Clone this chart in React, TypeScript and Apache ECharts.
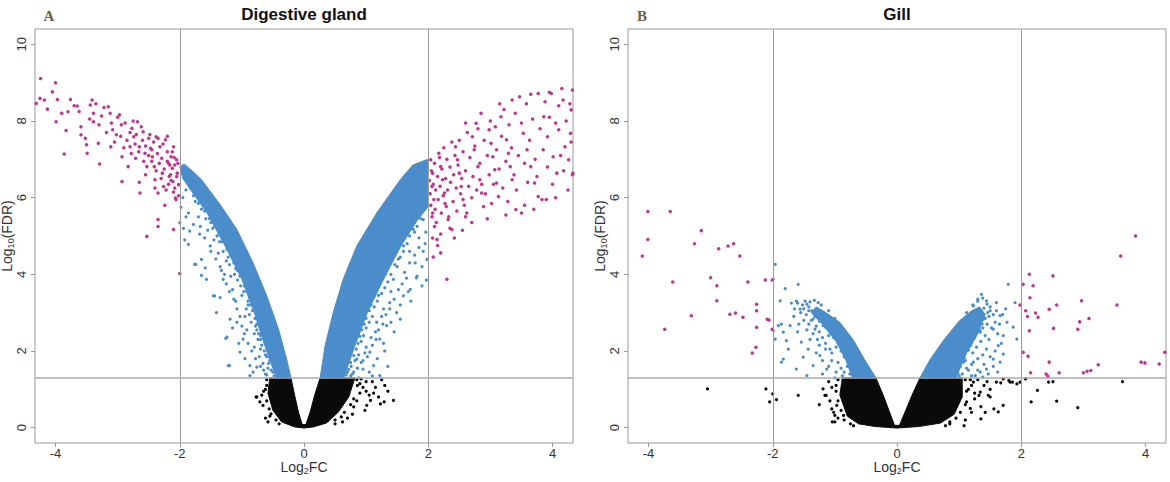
import React, { useEffect, useRef } from 'react';
import * as echarts from 'echarts';

type P = [number, number];

const X_TICKS = [-4, -2, 0, 2, 4];
const Y_TICKS = [0, 2, 4, 6, 8, 10];
const FC_CUTS = [-2, 2];
const FDR_CUT = 1.301;
const PANEL_TITLES = ['Digestive gland', 'Gill'];
const PANEL_LETTERS = ['A', 'B'];

// ---------- Panel A : Digestive gland ----------
const A_MAGENTA: P[] = [
  [-4.31, 8.46], [-4.24, 9.11], [-4.25, 8.59], [-4.0, 9.0], [-4.05, 8.76], [-3.97, 8.56], [-4.13, 8.31], [-3.99, 7.98],
  [-3.86, 7.14], [-3.83, 7.75], [-3.76, 8.56], [-3.8, 8.24], [-3.65, 8.39], [-3.59, 7.85], [-3.59, 7.64], [-3.5, 7.38],
  [-3.49, 7.16], [-3.41, 8.55], [-3.44, 8.42], [-3.39, 8.2], [-3.39, 7.98], [-3.31, 7.42], [-3.29, 6.88], [-3.26, 8.13],
  [-3.15, 8.37], [-3.08, 7.77], [-3.11, 7.33], [-3.02, 7.64], [-2.97, 8.16], [-2.94, 7.9], [-2.93, 7.07], [-2.93, 6.42],
  [-2.83, 6.81], [-2.8, 7.33], [-2.77, 7.81], [-2.74, 7.59], [-2.71, 7.03], [-2.68, 7.98], [-2.65, 7.33], [-2.64, 6.12],
  [-2.59, 7.72], [-2.56, 7.16], [-2.53, 6.81], [-2.5, 7.55], [-2.47, 7.29], [-2.44, 7.07], [-2.41, 6.81], [-2.4, 6.47],
  [-2.38, 7.59], [-2.35, 6.12], [-2.35, 5.43], [-2.35, 5.25], [-2.32, 7.33], [-2.29, 7.03], [-2.28, 6.64], [-2.26, 6.29],
  [-2.23, 7.51], [-2.2, 7.2], [-2.18, 6.9], [-2.17, 6.55], [-2.14, 7.07], [-2.12, 6.77], [-2.11, 6.42], [-2.1, 7.33],
  [-2.08, 6.25], [-2.07, 5.99], [-2.05, 6.99], [-2.04, 6.64], [-2.02, 6.34], [-2.1, 5.17], [-2.53, 4.99], [-2.0, 4.02],
  [-2.05, 6.55], [-2.08, 6.85], [-2.1, 6.15], [-2.12, 7.2], [-2.15, 6.6], [-2.18, 6.35], [-2.2, 6.95], [-2.22, 6.2],
  [-2.25, 6.75], [-2.27, 7.4], [-2.3, 6.5], [-2.33, 6.9], [-2.36, 7.15], [-2.38, 6.7], [-2.42, 7.45], [-2.45, 6.95],
  [-2.48, 7.65], [-2.5, 7.1], [-2.55, 7.35], [-2.58, 6.95], [-2.6, 7.5], [-2.62, 7.85], [-2.66, 7.2], [-2.7, 7.65],
  [-2.72, 7.4], [-2.75, 8.0], [-2.78, 7.15], [-2.8, 7.7], [-2.85, 7.5], [-2.88, 7.95], [-2.9, 7.3], [-2.95, 7.6],
  [-3.0, 8.1], [-3.05, 7.45], [-3.1, 7.95], [-3.12, 8.2], [-3.18, 7.7], [-3.22, 8.35], [-3.3, 7.9], [-3.35, 8.45],
  [-3.45, 8.05], [-3.52, 7.55], [-3.62, 8.25], [-3.7, 8.4], [-3.9, 8.2], [-4.18, 8.55], [-2.02, 6.05], [-2.06, 5.95],
  [-2.14, 6.45], [-2.24, 5.8], [-2.4, 6.25], [-2.55, 6.6], [-2.65, 6.4], [-2.45, 7.25], [-2.35, 7.55], [-2.2, 7.6],
  [-2.03, 6.9], [-2.09, 7.05], [-2.16, 6.85],
  [2.04, 6.99], [2.07, 6.64], [2.06, 6.29], [2.09, 5.95], [2.07, 5.6], [2.1, 5.25], [2.14, 4.91], [2.17, 7.16],
  [2.2, 6.81], [2.23, 6.47], [2.26, 6.12], [2.29, 5.77], [2.32, 5.43], [2.38, 5.17], [2.44, 7.33], [2.47, 6.99],
  [2.5, 6.64], [2.53, 6.29], [2.56, 5.95], [2.62, 5.6], [2.71, 7.59], [2.74, 7.25], [2.77, 7.94], [2.8, 6.81],
  [2.83, 6.47], [2.86, 6.12], [2.89, 5.77], [2.98, 7.77], [3.01, 7.42], [3.04, 7.07], [3.07, 6.73], [3.1, 6.38],
  [3.13, 6.03], [3.17, 8.11], [3.26, 7.51], [3.29, 7.16], [3.32, 6.81], [3.35, 6.47], [3.41, 5.69], [3.5, 5.6],
  [3.47, 8.63], [3.53, 7.68], [3.59, 7.25], [3.65, 6.81], [3.71, 6.38], [3.77, 6.03], [3.83, 5.95], [3.77, 8.72],
  [3.86, 8.11], [3.92, 7.59], [3.98, 8.72], [4.01, 7.07], [4.07, 6.64], [4.1, 7.77], [4.17, 8.55], [4.2, 7.33],
  [4.26, 6.99], [4.32, 8.81], [4.3, 8.29], [4.33, 6.64], [4.29, 7.68], [2.2, 4.56], [2.3, 3.87], [2.07, 4.95],
  [2.02, 6.45], [2.03, 6.1], [2.04, 5.8], [2.05, 6.7], [2.06, 5.5], [2.08, 6.35], [2.1, 6.9], [2.11, 5.7],
  [2.12, 6.2], [2.13, 5.35], [2.15, 6.55], [2.16, 5.95], [2.18, 7.05], [2.19, 6.3], [2.21, 5.6], [2.22, 6.75],
  [2.24, 6.05], [2.25, 7.3], [2.27, 5.85], [2.28, 6.5], [2.3, 7.0], [2.31, 6.2], [2.33, 5.5], [2.35, 6.8],
  [2.36, 6.4], [2.38, 7.45], [2.4, 5.9], [2.41, 6.6], [2.43, 7.1], [2.45, 6.25], [2.46, 5.65], [2.48, 6.85],
  [2.5, 7.5], [2.52, 6.1], [2.54, 6.5], [2.56, 7.2], [2.58, 5.8], [2.6, 6.7], [2.63, 7.7], [2.65, 6.3],
  [2.67, 7.05], [2.7, 6.0], [2.72, 6.55], [2.75, 7.35], [2.78, 6.2], [2.8, 7.8], [2.83, 6.9], [2.86, 6.35],
  [2.9, 7.5], [2.92, 6.1], [2.95, 7.1], [2.98, 6.6], [3.0, 8.0], [3.02, 5.85], [3.05, 6.35], [3.08, 7.85],
  [3.1, 7.25], [3.14, 6.75], [3.18, 7.6], [3.2, 6.25], [3.22, 8.3], [3.25, 6.95], [3.28, 5.9], [3.3, 7.9],
  [3.34, 7.3], [3.38, 6.6], [3.4, 8.2], [3.42, 6.2], [3.45, 7.1], [3.5, 7.95], [3.55, 6.9], [3.58, 8.45],
  [3.6, 6.4], [3.63, 7.5], [3.68, 8.05], [3.72, 7.0], [3.75, 6.55], [3.8, 7.8], [3.85, 7.25], [3.88, 8.5],
  [3.92, 6.8], [3.95, 8.1], [4.0, 6.35], [4.05, 7.95], [4.1, 8.4], [4.13, 7.1], [4.18, 6.7], [4.22, 8.0],
  [4.25, 6.2], [4.3, 7.45], [3.7, 5.7], [3.9, 5.95], [3.55, 5.8], [3.25, 5.55], [2.95, 5.45], [2.7, 5.35],
  [2.55, 5.15], [2.42, 4.95], [2.2, 5.05], [2.15, 4.75], [2.08, 4.45], [2.35, 5.2], [2.6, 5.5], [4.05, 6.0],
  [4.32, 6.6], [4.28, 8.45], [3.35, 8.55], [3.15, 8.45], [2.85, 8.2], [2.6, 7.95], [3.65, 8.7], [3.95, 8.75],
  [4.15, 8.85],
];

const A_BLUE: P[] = [
  [-1.86, 5.6], [-2.0, 5.34], [-1.84, 5.13], [-1.76, 4.26], [-1.65, 4.39], [-1.59, 4.17], [-1.46, 3.44], [-1.35, 3.39],
  [-1.24, 2.36], [-1.2, 1.62], [-1.03, 1.97], [-1.08, 2.75], [-0.87, 1.62], [-0.87, 1.36], [-0.76, 1.58], [-1.3, 3.87],
  [-1.51, 4.74], [-1.67, 5.25], [-1.57, 3.87], [-1.41, 3.0], [-1.19, 2.83], [-0.98, 2.31], [-1.86, 4.78], [-1.74, 4.26],
  [-1.65, 3.97], [-1.44, 3.44], [-1.26, 2.33], [-1.22, 1.62], [-1.45, 4.9], [-1.38, 4.55], [-1.25, 4.35], [-1.15, 3.6],
  [-1.1, 3.3], [-0.95, 2.9], [-0.92, 2.55], [-0.8, 2.1], [-0.72, 1.85], [-0.65, 1.5], [-0.6, 1.38], [-1.7, 5.5],
  [-1.75, 5.9], [-1.9, 6.2], [-1.55, 5.15], [-1.35, 4.2], [-1.18, 3.95], [-1.0, 3.45], [-0.9, 3.2], [-0.78, 2.65],
  [-0.7, 2.4], [-1.28, 4.0], [-1.6, 4.95], [-1.95, 6.0], [-1.98, 5.75], [-1.92, 4.9], [-1.15, 2.6], [-1.05, 2.2],
  [-0.95, 1.8], [-0.82, 1.45],
  [-0.5, 1.45], [-0.58, 1.55], [-0.55, 1.75], [-0.62, 1.9], [-0.66, 1.68], [-0.7, 2.05], [-0.74, 2.3], [-0.8, 2.45],
  [-0.76, 2.55], [-0.85, 2.75], [-0.88, 2.95], [-0.93, 3.1], [-0.9, 3.3], [-0.97, 3.55], [-1.02, 3.7], [-1.07, 3.85],
  [-1.12, 4.0], [-1.1, 4.15], [-1.2, 4.25], [-1.22, 4.45], [-1.3, 4.6], [-1.36, 4.85], [-1.4, 5.0], [-1.47, 5.2],
  [-1.5, 5.35], [-1.58, 5.45], [-1.65, 5.7], [-1.7, 5.85], [-1.78, 6.05], [-1.85, 6.35], [-0.62, 1.4], [-0.7, 1.6],
  [-0.78, 1.8], [-0.84, 2.0], [-0.9, 2.2], [-0.96, 2.45], [-1.0, 2.65], [-1.03, 2.9], [-1.08, 3.1], [-1.13, 3.35],
  [-1.2, 3.55], [-1.25, 3.75], [-1.33, 4.1], [-1.42, 4.4], [-1.5, 4.6], [-1.68, 5.05], [-1.78, 5.3], [-1.9, 5.5],
  [-1.94, 5.2],
  [-0.48, 1.35], [-0.53, 1.5], [-0.57, 1.68], [-0.6, 1.85], [-0.64, 2.0], [-0.68, 2.15], [-0.7, 2.3], [-0.73, 2.45],
  [-0.76, 2.7], [-0.79, 2.85], [-0.83, 3.05], [-0.86, 3.2], [-0.88, 3.4], [-0.92, 3.55], [-0.96, 3.7], [-1.03, 3.95],
  [-1.07, 4.1], [-1.13, 4.3], [-1.18, 4.5], [-1.24, 4.65], [-1.32, 4.85], [-1.37, 5.05], [-1.44, 5.25], [-1.52, 5.45],
  [-1.6, 5.65], [-1.68, 5.9], [-1.74, 6.1], [-1.83, 6.25], [-1.88, 6.45],
  [1.98, 4.39], [1.79, 4.3], [1.81, 3.91], [1.71, 3.61], [1.6, 3.44], [1.55, 2.83], [1.38, 3.26], [1.33, 2.66],
  [1.22, 2.31], [1.22, 1.36], [1.06, 1.97], [1.12, 1.62], [0.95, 1.53], [0.85, 1.79], [1.44, 3.87], [1.6, 4.74],
  [1.76, 5.17], [1.92, 5.43], [1.49, 3.0], [1.17, 2.75], [1.7, 4.6], [1.85, 4.95], [1.5, 4.2], [1.4, 3.55],
  [1.28, 3.1], [1.15, 2.5], [1.0, 2.1], [0.92, 1.7], [0.8, 1.45], [0.75, 1.35], [1.9, 4.2], [1.95, 4.8],
  [1.65, 3.9], [1.25, 2.9], [1.08, 2.35], [0.98, 1.95], [1.35, 1.6], [1.3, 2.0], [1.45, 2.5], [1.72, 3.3],
  [1.9, 3.7], [1.55, 4.45], [1.25, 3.5], [1.1, 1.35], [0.88, 1.3],
  [0.7, 1.45], [0.76, 1.6], [0.82, 1.75], [0.88, 1.9], [0.92, 2.25], [0.96, 2.4], [1.0, 2.6], [1.05, 2.75],
  [1.1, 2.9], [1.13, 3.15], [1.18, 3.3], [1.2, 3.45], [1.3, 3.65], [1.35, 3.8], [1.4, 4.0], [1.46, 4.25],
  [1.52, 4.4], [1.6, 4.6], [1.66, 4.8], [1.7, 5.0], [1.78, 5.1], [1.82, 5.25], [1.88, 5.45], [0.78, 1.4],
  [0.86, 1.55], [0.95, 1.75], [1.02, 1.85], [1.1, 2.15], [1.16, 2.3], [1.2, 2.55], [1.27, 2.7], [1.32, 2.95],
  [1.38, 3.1], [1.45, 3.35], [1.52, 3.6], [1.58, 3.75], [1.62, 4.05], [1.7, 4.3], [1.78, 4.5], [1.85, 4.7],
  [1.92, 4.6], [1.96, 5.1], [1.05, 1.45], [1.18, 1.8], [1.28, 2.2], [1.4, 2.75], [1.55, 3.2], [1.68, 3.55],
  [1.82, 3.95], [1.97, 3.85],
  [0.68, 1.38], [0.72, 1.52], [0.75, 1.7], [0.8, 1.88], [0.84, 2.05], [0.87, 2.2], [0.9, 2.38], [0.93, 2.55],
  [0.97, 2.7], [1.0, 2.85], [1.05, 3.05], [1.08, 3.2], [1.12, 3.4], [1.16, 3.55], [1.2, 3.7], [1.25, 3.85],
  [1.31, 4.0], [1.36, 4.2], [1.42, 4.38], [1.48, 4.55], [1.55, 4.8], [1.62, 4.95], [1.68, 5.15], [1.75, 5.3],
  [1.8, 5.5], [1.86, 5.6], [1.94, 5.7],
];

const A_BLACK: P[] = [
  [-0.77, 0.8], [-0.71, 0.67], [-0.56, 0.49], [-0.53, 0.36], [-0.76, 0.8], [-0.66, 0.58], [-0.62, 0.25], [-0.6, 1.1],
  [-0.65, 0.95], [-0.45, 0.2], [-0.58, 0.15], [-0.6, 1.25], [-0.62, 1.0], [-0.6, 0.7], [-0.55, 0.3], [-0.4, 0.1],
  [-0.68, 0.85],
  [0.98, 0.45], [1.01, 0.58], [1.07, 0.71], [1.23, 0.62], [1.29, 0.67], [1.44, 0.71], [0.8, 0.54], [0.68, 0.84],
  [0.86, 1.1], [0.92, 1.27], [0.38, 0.19], [0.9, 0.9], [0.95, 1.05], [1.0, 1.2], [0.78, 0.35], [0.7, 0.25],
  [0.62, 0.15], [1.12, 0.9], [1.15, 1.05], [0.85, 0.7], [1.25, 1.25], [0.5, 0.1], [0.85, 1.25], [0.9, 1.15],
  [0.8, 0.75], [0.75, 0.6], [0.65, 0.4], [0.5, 0.2], [1.0, 0.95], [1.05, 0.85], [1.1, 1.2], [1.2, 0.8],
  [1.35, 0.95], [1.3, 1.1], [0.6, 0.28],
];

const A_BLUE_CORE: P[][] = [
  [[-1.93, 6.88], [-1.8, 6.7], [-1.65, 6.47], [-1.35, 5.82], [-1.08, 5.17], [-0.82, 4.3], [-0.6, 3.44], [-0.41, 2.57],
   [-0.28, 1.79], [-0.21, 1.3], [-0.44, 1.3], [-0.52, 1.62], [-0.65, 2.23], [-0.8, 3.0], [-1.0, 3.87], [-1.27, 4.74],
   [-1.56, 5.6], [-1.78, 6.1], [-1.95, 6.5], [-2.0, 6.8]],
  [[0.26, 1.3], [0.34, 2.14], [0.47, 3.0], [0.63, 3.87], [0.85, 4.74], [1.17, 5.6], [1.55, 6.47], [1.75, 6.85],
   [1.99, 7.0], [1.99, 5.75], [1.82, 5.4], [1.56, 4.74], [1.28, 3.87], [1.02, 3.0], [0.82, 2.14], [0.64, 1.3]],
];

const A_BLACK_CORE: P[][] = [
  [[-0.55, 1.3], [-0.58, 0.9], [-0.5, 0.45], [-0.36, 0.15], [-0.15, 0.02], [0, -0.01], [0.15, 0.02], [0.36, 0.12],
   [0.55, 0.4], [0.72, 0.8], [0.82, 1.3], [0.26, 1.3], [0.17, 0.84], [0.1, 0.41], [0.03, 0.08], [-0.03, 0.08],
   [-0.09, 0.41], [-0.15, 0.84], [-0.21, 1.3]],
];

// ---------- Panel B : Gill ----------
const B_MAGENTA: P[] = [
  [-4.01, 5.64], [-3.65, 5.64], [-4.01, 4.91], [-3.15, 5.14], [-3.26, 4.8], [-2.87, 4.67], [-2.72, 4.74], [-2.63, 4.8],
  [-4.1, 4.48], [-2.53, 4.48], [-3.61, 3.8], [-3.0, 3.91], [-2.9, 3.7], [-2.4, 3.8], [-2.12, 3.85], [-2.01, 3.85],
  [-3.74, 2.57], [-3.31, 2.92], [-2.9, 3.31], [-2.69, 2.96], [-2.6, 2.99], [-2.48, 2.88], [-2.26, 3.22], [-2.26, 3.05],
  [-2.26, 2.62], [-2.09, 2.83], [-2.06, 2.81], [-2.01, 2.57], [-2.27, 2.1], [-2.33, 1.95],
  [2.13, 4.0], [2.51, 3.96], [3.6, 4.48], [3.84, 5.0], [2.03, 3.74], [2.19, 3.7], [2.14, 3.39], [1.98, 3.2],
  [2.07, 3.05], [2.1, 2.9], [2.23, 2.99], [2.27, 2.88], [2.45, 3.09], [2.57, 3.2], [2.13, 2.53], [2.52, 2.59],
  [2.97, 3.31], [3.54, 3.2], [2.91, 2.57], [2.94, 2.76], [3.09, 2.85], [2.03, 1.97], [2.11, 1.86], [2.45, 1.71],
  [2.15, 1.43], [2.4, 1.4], [2.43, 1.34], [2.61, 1.43], [3.0, 1.43], [3.06, 1.47], [3.12, 1.49], [3.24, 1.64],
  [3.93, 1.71], [3.99, 1.69], [4.22, 1.66], [4.31, 1.97],
];

const B_BLUE: P[] = [
  [-1.96, 4.26], [-1.99, 3.87], [-1.8, 3.63], [-1.59, 3.74], [-1.88, 3.31], [-1.86, 2.7], [-1.72, 2.66], [-1.91, 2.66],
  [-1.83, 2.49], [-1.99, 2.53], [-1.96, 2.31], [-1.78, 2.27], [-1.75, 2.05], [-1.83, 1.79], [-1.86, 1.71], [-1.51, 1.84],
  [-1.62, 1.53], [-1.45, 1.36], [-1.35, 1.62], [-1.54, 2.23], [-1.43, 2.05], [-1.32, 2.57], [-1.24, 1.88], [-1.13, 1.53],
  [-1.08, 2.05], [-1.45, 3.22], [-1.37, 3.05], [-1.27, 3.26], [-1.56, 3.09], [-1.35, 2.83], [-1.21, 2.96], [-1.19, 2.66],
  [-1.08, 2.57], [-1.62, 3.3], [-1.5, 3.1], [-1.42, 2.7], [-1.28, 2.3], [-1.15, 2.2], [-1.05, 1.75], [-0.98, 1.45],
  [-1.2, 1.4], [-1.3, 1.95], [-1.6, 2.5], [-1.66, 2.9],
  [-1.6, 3.25], [-1.52, 3.2], [-1.48, 3.3], [-1.42, 3.15], [-1.4, 3.28], [-1.33, 3.32], [-1.55, 3.0], [-1.46, 2.95],
  [-1.5, 2.8], [-1.38, 2.8], [-1.3, 2.65], [-1.25, 2.5], [-1.35, 2.45], [-1.4, 2.3], [-1.2, 2.35], [-1.1, 2.4],
  [-1.15, 2.05], [-1.05, 1.95], [-0.98, 2.1], [-0.95, 1.7], [-0.9, 1.55], [-0.85, 1.45], [-0.88, 1.35], [-1.0, 1.3],
  [-1.1, 1.6], [-1.2, 1.75], [-1.25, 2.15], [-1.45, 2.55], [-1.58, 2.7], [-1.65, 3.1], [-1.7, 3.25], [-1.28, 2.9],
  [-1.22, 3.2], [-1.1, 3.05], [-1.0, 2.85], [-0.9, 2.5], [-0.82, 2.2], [-0.75, 2.0], [-0.65, 1.75], [-0.6, 1.5],
  [-0.76, 1.4], [-0.8, 1.6], [-0.85, 1.85], [-0.9, 2.0], [-0.95, 2.2], [-1.02, 2.35], [-1.08, 2.5], [-1.15, 2.62],
  [-1.25, 2.78], [-1.32, 2.9], [-1.42, 3.05],
  [1.36, 3.48], [1.44, 3.31], [1.6, 3.26], [1.79, 3.74], [1.9, 3.26], [1.66, 2.92], [1.77, 2.75], [1.87, 2.62],
  [1.93, 2.31], [1.71, 2.4], [1.63, 2.14], [1.71, 1.92], [1.66, 1.71], [1.55, 1.79], [1.44, 1.53], [1.34, 1.45],
  [1.26, 1.36], [1.23, 1.71], [1.44, 2.05], [1.55, 2.57], [1.39, 2.83], [1.34, 2.49], [1.18, 2.14], [1.07, 1.71],
  [0.96, 1.53], [1.23, 3.18], [1.12, 3.0], [1.5, 3.15], [1.58, 2.75], [1.48, 2.3], [1.38, 1.9], [1.15, 1.5],
  [1.3, 3.35], [1.75, 3.1], [1.62, 1.45],
  [1.3, 3.3], [1.38, 3.38], [1.45, 3.22], [1.5, 3.05], [1.48, 2.9], [1.55, 2.95], [1.6, 3.05], [1.45, 2.7],
  [1.52, 2.6], [1.38, 2.6], [1.42, 2.4], [1.35, 2.25], [1.28, 2.1], [1.22, 1.95], [1.3, 1.8], [1.2, 1.65],
  [1.12, 1.55], [1.05, 1.4], [1.0, 1.35], [1.1, 1.75], [1.18, 2.3], [1.25, 2.6], [1.32, 2.85], [1.05, 2.05],
  [0.98, 1.6], [1.62, 2.45], [1.68, 2.2], [1.58, 2.0], [1.5, 1.85], [1.4, 1.65], [1.3, 1.5], [1.2, 1.35],
  [1.55, 1.6], [1.47, 1.4], [1.38, 1.32], [1.65, 2.7], [1.7, 2.95], [1.22, 3.2], [1.15, 2.9], [1.08, 2.6],
  [0.98, 1.42], [1.02, 1.6], [1.08, 1.82], [1.15, 2.02], [1.2, 2.2], [1.25, 2.35], [1.33, 2.55], [1.37, 2.7],
  [1.42, 2.85], [1.46, 3.0], [1.4, 3.12],
];

const B_BLACK: P[] = [
  [-3.05, 1.01], [-2.11, 1.01], [-2.0, 0.88], [-2.05, 0.67], [-1.94, 0.73], [-1.59, 0.84], [-1.16, 0.84], [-1.04, 0.15],
  [-1.0, 0.32], [-1.19, 1.01], [-1.14, 0.84], [-0.97, 0.58], [-1.0, 0.15], [-0.86, 0.32], [-1.05, 0.49], [-1.1, 1.2],
  [-0.98, 1.1], [-1.25, 0.6], [-0.95, 0.25], [-0.95, 1.25], [-0.98, 0.95], [-0.95, 0.7], [-0.9, 0.45], [-0.85, 0.2],
  [-0.75, 0.1], [-1.02, 0.4], [-1.08, 0.7], [-1.05, 1.05], [-0.7, 0.05],
  [1.98, 1.19], [2.07, 1.27], [2.16, 0.67], [2.26, 0.97], [2.44, 1.19], [2.51, 1.2], [2.57, 0.69], [2.91, 0.52],
  [3.63, 1.2], [1.8, 1.23], [1.86, 1.19], [1.67, 1.17], [1.71, 0.58], [1.56, 0.49], [1.35, 0.23], [1.5, 0.8],
  [1.32, 0.84], [1.23, 1.19], [1.34, 0.93], [1.47, 0.84], [1.6, 1.19], [1.71, 1.27], [1.82, 1.19], [1.93, 1.14],
  [1.63, 0.41], [1.12, 0.67], [0.85, 0.15], [1.2, 0.4], [1.15, 1.0], [1.1, 0.2], [1.25, 0.75], [1.4, 1.1],
  [1.18, 1.25], [1.08, 0.05], [1.1, 1.25], [1.12, 0.95], [1.1, 0.6], [1.02, 0.4], [0.95, 0.25], [0.85, 0.1],
  [1.2, 1.1], [1.25, 0.9], [1.3, 1.25], [1.45, 1.2], [1.18, 0.5], [1.35, 0.55], [1.5, 1.0], [1.42, 0.4],
  [0.78, 0.05],
];

const B_BLUE_CORE: P[][] = [
  [[-1.3, 3.15], [-1.19, 3.05], [-0.92, 2.75], [-0.7, 2.28], [-0.52, 1.77], [-0.34, 1.3], [-0.72, 1.3], [-0.82, 1.75],
   [-0.98, 2.25], [-1.2, 2.7], [-1.38, 3.0]],
  [[0.37, 1.3], [0.53, 1.77], [0.75, 2.28], [1.0, 2.78], [1.2, 3.05], [1.33, 3.15], [1.42, 2.95], [1.3, 2.45],
   [1.12, 1.95], [0.95, 1.3]],
];

const B_BLACK_CORE: P[][] = [
  [[-0.88, 1.3], [-0.92, 0.85], [-0.8, 0.3], [-0.62, 0.1], [-0.35, 0.03], [0, -0.01], [0.35, 0.03], [0.7, 0.12],
   [0.92, 0.35], [1.05, 0.8], [1.05, 1.3], [0.37, 1.3], [0.24, 0.84], [0.14, 0.45], [0.04, 0.06], [-0.04, 0.06],
   [-0.13, 0.45], [-0.22, 0.84], [-0.34, 1.3]],
];

const PANELS = [
  { magenta: A_MAGENTA, blue: A_BLUE, black: A_BLACK, blueCore: A_BLUE_CORE, blackCore: A_BLACK_CORE },
  { magenta: B_MAGENTA, blue: B_BLUE, black: B_BLACK, blueCore: B_BLUE_CORE, blackCore: B_BLACK_CORE },
];

const MAGENTA = '#BF378E';
const BLUE = '#4A8DCA';
const BLACK = '#0a0a0a';
const FONT = '"Liberation Sans", Arial, Helvetica, sans-serif';

const GRID_LEFTS = [35, 628];
const GRID_TOP = 29;
const GRID_W = 538;
const GRID_H = 414;

function polySeries(i: number, polys: P[][], color: string, z: number) {
  return {
    type: 'custom',
    xAxisIndex: i,
    yAxisIndex: i,
    silent: true,
    z,
    data: polys.map((p) => p[0]),
    renderItem: (params: any, api: any) => {
      const poly = polys[params.dataIndex];
      return {
        type: 'polygon',
        shape: { points: poly.map((pt) => api.coord(pt)) },
        style: { fill: color, stroke: color, lineWidth: 1 },
      };
    },
  };
}

function scatter(i: number, data: P[], color: string, size: number, z: number) {
  return {
    type: 'scatter',
    xAxisIndex: i,
    yAxisIndex: i,
    silent: true,
    z,
    symbol: 'circle',
    symbolSize: size,
    itemStyle: { color, opacity: 1 },
    data,
  };
}

export default function App() {
  const ref = useRef<HTMLDivElement>(null);
  useEffect(() => {
    document.body.style.margin = '0';
    if (!ref.current) return;
    const chart = echarts.init(ref.current, undefined, { renderer: 'svg' });

    const series: any[] = [];
    PANELS.forEach((p, i) => {
      series.push(polySeries(i, p.blueCore, BLUE, 1));
      series.push(polySeries(i, p.blackCore, BLACK, 1));
      series.push(scatter(i, p.blue, BLUE, 3.2, 2));
      series.push(scatter(i, p.black, BLACK, 3.2, 2));
      series.push(scatter(i, p.magenta, MAGENTA, 3.5, 3));
      series.push({
        type: 'line',
        xAxisIndex: i,
        yAxisIndex: i,
        data: [],
        z: 10,
        silent: true,
        markLine: {
          silent: true,
          symbol: 'none',
          label: { show: false },
          lineStyle: { color: '#9c9c9c', width: 1, type: 'solid' },
          data: [
            ...FC_CUTS.map((v) => ({ xAxis: v })),
            { yAxis: FDR_CUT, lineStyle: { color: '#ababab', width: 1.5, type: 'solid' } },
          ],
        },
      });
    });

    const graphics: any[] = [];
    PANELS.forEach((_, i) => {
      const left = GRID_LEFTS[i];
      const cx = left + GRID_W / 2;
      graphics.push({
        type: 'text',
        x: cx,
        y: 14,
        style: {
          text: PANEL_TITLES[i],
          fill: '#111',
          fontSize: 17,
          fontWeight: 'bold',
          fontFamily: FONT,
          align: 'center',
          verticalAlign: 'middle',
          textAlign: 'center',
          textVerticalAlign: 'middle',
        },
      });
      graphics.push({
        type: 'text',
        x: left + 14,
        y: 16,
        style: {
          text: PANEL_LETTERS[i],
          fill: '#6e5f42',
          fontSize: 15,
          fontWeight: 'bold',
          fontFamily: '"Liberation Serif", "DejaVu Serif", serif',
          align: 'center',
          verticalAlign: 'middle',
          textAlign: 'center',
          textVerticalAlign: 'middle',
        },
      });
      graphics.push({
        type: 'text',
        x: cx,
        y: 467,
        style: {
          text: '{a|Log}{s|2}{a|FC}',
          rich: {
            a: { fontSize: 14, lineHeight: 16, fontFamily: FONT, fill: '#333' },
            s: { fontSize: 9, lineHeight: 9, fontFamily: FONT, fill: '#333', verticalAlign: 'bottom' },
          },
          align: 'center',
          verticalAlign: 'middle',
          textAlign: 'center',
          textVerticalAlign: 'middle',
        },
      });
      graphics.push({
        type: 'text',
        x: left - 28,
        y: GRID_TOP + GRID_H / 2,
        rotation: Math.PI / 2,
        style: {
          text: '{a|Log}{s|10}{a|(FDR)}',
          rich: {
            a: { fontSize: 14, lineHeight: 16, fontFamily: FONT, fill: '#333' },
            s: { fontSize: 9, lineHeight: 9, fontFamily: FONT, fill: '#333', verticalAlign: 'bottom' },
          },
          align: 'center',
          verticalAlign: 'middle',
          textAlign: 'center',
          textVerticalAlign: 'middle',
        },
      });
    });

    const option: any = {
      animation: false,
      backgroundColor: '#ffffff',
      grid: GRID_LEFTS.map((l) => ({
        left: l,
        top: GRID_TOP,
        width: GRID_W,
        height: GRID_H,
        show: true,
        borderColor: '#bcbcbc',
        borderWidth: 1.5,
        backgroundColor: 'transparent',
      })),
      xAxis: GRID_LEFTS.map((_, i) => ({
        type: 'value',
        gridIndex: i,
        min: -4.33,
        max: 4.33,
        axisLine: { show: false, onZero: false },
        splitLine: { show: false },
        axisTick: { show: true, length: 4, lineStyle: { color: '#9a9a9a' }, customValues: X_TICKS },
        axisLabel: { show: true, customValues: X_TICKS, fontSize: 13, color: '#333', margin: 4, fontFamily: FONT },
      })),
      yAxis: GRID_LEFTS.map((_, i) => ({
        type: 'value',
        gridIndex: i,
        min: -0.4,
        max: 10.4,
        axisLine: { show: false, onZero: false },
        splitLine: { show: false },
        axisTick: { show: true, length: 4, lineStyle: { color: '#9a9a9a' }, customValues: Y_TICKS },
        axisLabel: {
          show: true,
          customValues: Y_TICKS,
          fontSize: 13,
          color: '#333',
          margin: 7,
          rotate: 90,
          fontFamily: FONT,
        },
      })),
      series,
      graphic: { elements: graphics },
    };
    chart.setOption(option);
    return () => chart.dispose();
  }, []);
  return <div ref={ref} style={{ width: 1170, height: 482 }} />;
}
